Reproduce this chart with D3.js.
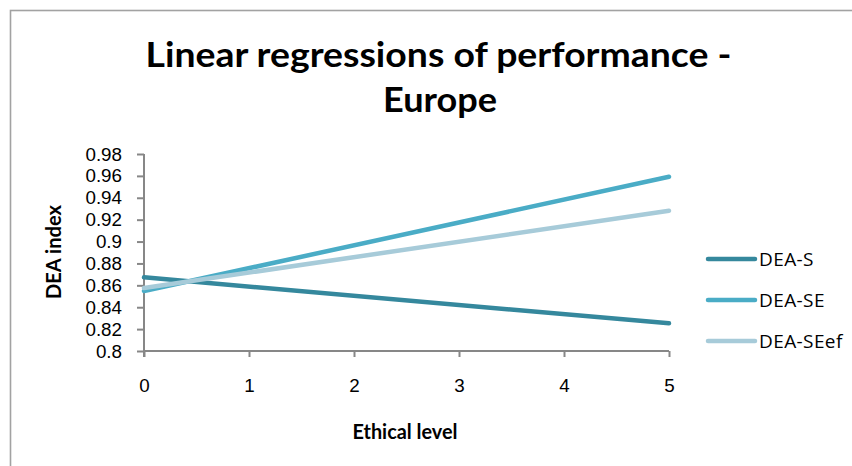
<!DOCTYPE html>
<html>
<head>
<meta charset="utf-8">
<script src="https://cdn.jsdelivr.net/npm/d3@7"></script>
<style>
  html, body { margin: 0; padding: 0; background: #fff; }
  svg { display: block; }
</style>
</head>
<body>
<svg id="chart" width="852" height="466"></svg>
<script>
// Regression lines evaluated at the ends of the ethical-level range
const ethicalLevels = [0, 5];
const seriesNames = ["DEA-S", "DEA-SE", "DEA-SEef"];
const deaS = [0.8673, 0.8253];
const deaSE = [0.8548, 0.9592];
const deaSEef = [0.8575, 0.9281];
const xTicks = [0, 1, 2, 3, 4, 5];
const yTicks = [0.8, 0.82, 0.84, 0.86, 0.88, 0.9, 0.92, 0.94, 0.96, 0.98];
const titleLines = ["Linear regressions of performance -", "Europe"];

const seriesValues = [deaS, deaSE, deaSEef];
const colors = ["#35889D", "#4AACC6", "#A7CBD9"];

const svg = d3.select("#chart");

// outer chart-area frame
svg.append("rect")
  .attr("x", 10.5).attr("y", 10.5)
  .attr("width", 900).attr("height", 500)
  .attr("fill", "none")
  .attr("stroke", "#a2a2a2")
  .attr("stroke-width", 1.6);

const x = d3.scaleLinear().domain([0, 5]).range([144, 669]);
const y = d3.scaleLinear().domain([0.8, 0.98]).range([351, 154]);

// title
const title = svg.append("g")
  .attr("font-family", "Lato, 'Open Sans', sans-serif")
  .attr("font-weight", "bold")
  .attr("font-size", 35)
  .attr("fill", "#000")
  .attr("text-anchor", "middle");
title.append("text").attr("x", 438.5).attr("y", 67)
  .attr("textLength", 586).attr("lengthAdjust", "spacingAndGlyphs")
  .text(titleLines[0]);
title.append("text").attr("x", 440).attr("y", 112)
  .attr("textLength", 114).attr("lengthAdjust", "spacingAndGlyphs")
  .text(titleLines[1]);

const tickFont = "'Liberation Sans', Arial, sans-serif";

// y axis
const yAxis = d3.axisLeft(y)
  .tickValues(yTicks)
  .tickSize(7)
  .tickPadding(15)
  .tickFormat(d => d3.format("")(+d.toFixed(2)));
const gy = svg.append("g")
  .attr("transform", "translate(" + x(0) + ",0)")
  .call(yAxis);
gy.select(".domain").attr("stroke", "#878787").attr("stroke-width", 2)
  .attr("d", "M0," + y(0.98) + "V" + (y(0.8) + 6));
gy.selectAll(".tick line").attr("stroke", "#878787").attr("stroke-width", 2);
gy.selectAll(".tick text")
  .attr("font-family", tickFont)
  .attr("font-size", 18.8)
  .attr("fill", "#000");

// x axis
const xAxis = d3.axisBottom(x)
  .tickValues(xTicks)
  .tickSize(6)
  .tickPadding(22)
  .tickFormat(d3.format("d"));
const gx = svg.append("g")
  .attr("transform", "translate(0," + y(0.8) + ")")
  .call(xAxis);
gx.select(".domain").attr("stroke", "#878787").attr("stroke-width", 2)
  .attr("d", "M" + x(0) + ",0H" + x(5));
gx.selectAll(".tick line").attr("stroke", "#878787").attr("stroke-width", 2);
gx.selectAll(".tick text")
  .attr("font-family", tickFont)
  .attr("font-size", 18.8)
  .attr("fill", "#000");

// axis titles
svg.append("text")
  .attr("transform", "translate(61,252) rotate(-90)")
  .attr("text-anchor", "middle")
  .attr("font-family", "Lato, 'Open Sans', sans-serif")
  .attr("font-weight", "bold")
  .attr("font-size", 21)
  .attr("textLength", 94).attr("lengthAdjust", "spacingAndGlyphs")
  .text("DEA index");
svg.append("text")
  .attr("x", 405).attr("y", 439)
  .attr("text-anchor", "middle")
  .attr("font-family", "Lato, 'Open Sans', sans-serif")
  .attr("font-weight", "bold")
  .attr("font-size", 20)
  .attr("textLength", 105).attr("lengthAdjust", "spacingAndGlyphs")
  .text("Ethical level");

// regression lines
const line = d3.line()
  .x((d, i) => x(ethicalLevels[i]))
  .y(d => y(d));
svg.append("g").selectAll("path")
  .data(seriesValues)
  .join("path")
  .attr("d", line)
  .attr("fill", "none")
  .attr("stroke", (d, i) => colors[i])
  .attr("stroke-width", 4.5)
  .attr("stroke-linecap", "round");

// legend
const legend = svg.append("g");
const legendY = [259, 300, 341];
seriesNames.forEach((name, i) => {
  legend.append("line")
    .attr("x1", 708).attr("x2", 755)
    .attr("y1", legendY[i]).attr("y2", legendY[i])
    .attr("stroke", colors[i])
    .attr("stroke-width", 4.5)
    .attr("stroke-linecap", "round");
  legend.append("text")
    .attr("x", 759).attr("y", legendY[i] + 7)
    .attr("font-family", "'Open Sans', sans-serif")
    .attr("font-size", 19)
    .attr("letter-spacing", 0.4)
    .attr("fill", "#000")
    .text(name);
});
</script>
</body>
</html>
